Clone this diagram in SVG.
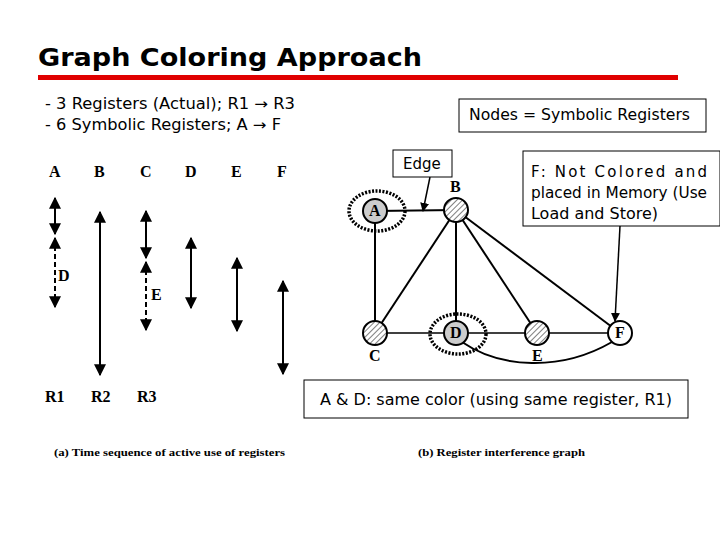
<svg xmlns="http://www.w3.org/2000/svg" width="720" height="540" viewBox="0 0 720 540">
<defs>
<marker id="ah" viewBox="0 0 10 10" refX="9" refY="5" markerWidth="6" markerHeight="6" orient="auto-start-reverse"><path d="M0,0L10,5L0,10z" fill="#000"/></marker>
<pattern id="hatch" width="4" height="4" patternUnits="userSpaceOnUse" patternTransform="rotate(45)"><rect width="4" height="4" fill="#fff"/><line x1="0" y1="0" x2="0" y2="4" stroke="#000" stroke-width="1"/></pattern>
</defs>
<style>
.s{font-family:"DejaVu Sans",Verdana,sans-serif;font-size:15px;fill:#000}
.t{font-family:"Liberation Serif",serif;font-weight:bold;font-size:16px;fill:#000}
.cap{font-family:"Liberation Serif",serif;font-weight:bold;font-size:11px;fill:#000}
.ln{stroke:#000;stroke-width:2;fill:none}
.box{fill:#fff;stroke:#000;stroke-width:1}
.dot{fill:none;stroke:#000;stroke-width:3.5;stroke-dasharray:2 1.5}
</style>
<rect width="720" height="540" fill="#fff"/>
<text x="38" y="66" textLength="384" lengthAdjust="spacingAndGlyphs" style="font-family:'DejaVu Sans',Verdana,sans-serif;font-weight:bold;font-size:25px">Graph Coloring Approach</text>
<rect x="38" y="75" width="640" height="5" fill="#e00000"/>
<text class="s" x="45" y="109" textLength="250" lengthAdjust="spacingAndGlyphs" font-size="16">- 3 Registers (Actual); R1 → R3</text>
<text class="s" x="45" y="130" textLength="236" lengthAdjust="spacingAndGlyphs" font-size="16">- 6 Symbolic Registers; A → F</text>
<g id="timeline">
<text class="t" x="49" y="177">A</text><text class="t" x="94" y="177">B</text><text class="t" x="140" y="177">C</text><text class="t" x="185" y="177">D</text><text class="t" x="231" y="177">E</text><text class="t" x="277" y="177">F</text>
<line class="ln" x1="55" y1="198" x2="55" y2="234" marker-start="url(#ah)" marker-end="url(#ah)"/>
<line class="ln" x1="55" y1="238" x2="55" y2="307" stroke-dasharray="5 3" marker-start="url(#ah)" marker-end="url(#ah)"/>
<text class="t" x="58" y="281">D</text>
<line class="ln" x1="100" y1="212" x2="100" y2="375" marker-start="url(#ah)" marker-end="url(#ah)"/>
<line class="ln" x1="146" y1="211" x2="146" y2="258" marker-start="url(#ah)" marker-end="url(#ah)"/>
<line class="ln" x1="146" y1="262" x2="146" y2="330" stroke-dasharray="5 3" marker-start="url(#ah)" marker-end="url(#ah)"/>
<text class="t" x="151" y="300">E</text>
<line class="ln" x1="191" y1="238" x2="191" y2="308" marker-start="url(#ah)" marker-end="url(#ah)"/>
<line class="ln" x1="237" y1="258" x2="237" y2="331" marker-start="url(#ah)" marker-end="url(#ah)"/>
<line class="ln" x1="283" y1="281" x2="283" y2="374" marker-start="url(#ah)" marker-end="url(#ah)"/>
<text class="t" x="45" y="402">R1</text><text class="t" x="91" y="402">R2</text><text class="t" x="137" y="402">R3</text>
</g>
<text class="cap" x="54" y="456" textLength="231" lengthAdjust="spacingAndGlyphs">(a) Time sequence of active use of registers</text>
<text class="cap" x="418" y="456" textLength="167" lengthAdjust="spacingAndGlyphs">(b) Register interference graph</text>
<g id="connectors">
<line class="ln" x1="375" y1="211" x2="456" y2="210"/>
<line class="ln" x1="375" y1="211" x2="375" y2="333"/>
<line class="ln" x1="456" y1="210" x2="375" y2="333"/>
<line class="ln" x1="456" y1="210" x2="456" y2="333"/>
<line class="ln" x1="456" y1="210" x2="537" y2="333"/>
<line class="ln" x1="456" y1="210" x2="620" y2="333"/>
<line stroke="#000" stroke-width="1.5" x1="375" y1="333" x2="620" y2="333"/>
<path class="ln" d="M462,342 C500,368 560,372 612,342"/>
<line stroke="#000" stroke-width="1.5" x1="430" y1="177" x2="423" y2="211" marker-end="url(#ah)"/>
<line stroke="#000" stroke-width="1.5" x1="620" y1="226" x2="615" y2="321" marker-end="url(#ah)"/>
</g>
<g id="nA"><ellipse class="dot" cx="377" cy="211" rx="28" ry="20"/><circle cx="375" cy="211" r="12" fill="#ccc" stroke="#000" stroke-width="2"/><text class="t" x="369" y="216" font-size="13">A</text></g>
<g id="nB"><circle cx="456" cy="210" r="12" fill="url(#hatch)" stroke="#000" stroke-width="2"/><text class="t" x="450" y="192" font-size="13">B</text></g>
<g id="nC"><circle cx="375" cy="333" r="12" fill="url(#hatch)" stroke="#000" stroke-width="2"/><text class="t" x="369" y="361" font-size="13">C</text></g>
<g id="nD"><ellipse class="dot" cx="458" cy="334" rx="28" ry="20"/><circle cx="456" cy="333" r="12" fill="#ccc" stroke="#000" stroke-width="2"/><text class="t" x="450" y="338" font-size="13">D</text></g>
<g id="nE"><circle cx="537" cy="333" r="12" fill="url(#hatch)" stroke="#000" stroke-width="2"/><text class="t" x="532" y="361" font-size="13">E</text></g>
<g id="nF"><circle cx="620" cy="333" r="12" fill="#fff" stroke="#000" stroke-width="2"/><text class="t" x="615" y="338" font-size="13">F</text></g>
<g id="labels">
<rect class="box" x="459" y="99" width="247" height="33"/><text class="s" x="469" y="120" textLength="221" lengthAdjust="spacingAndGlyphs">Nodes = Symbolic Registers</text>
<rect class="box" x="393" y="150" width="59" height="27"/><text class="s" x="403" y="169">Edge</text>
<rect class="box" x="523" y="151" width="197" height="75"/>
<text class="s" x="531" y="177" textLength="176" lengthAdjust="spacing">F:  Not  Colored  and</text>
<text class="s" x="531" y="198" textLength="176" lengthAdjust="spacingAndGlyphs">placed in Memory (Use</text>
<text class="s" x="531" y="219" textLength="127" lengthAdjust="spacingAndGlyphs">Load and Store)</text>
<rect class="box" x="304" y="380" width="384" height="38"/><text class="s" x="320" y="405" textLength="352" lengthAdjust="spacingAndGlyphs">A &amp; D: same color (using same register, R1)</text>
</g>
</svg>
